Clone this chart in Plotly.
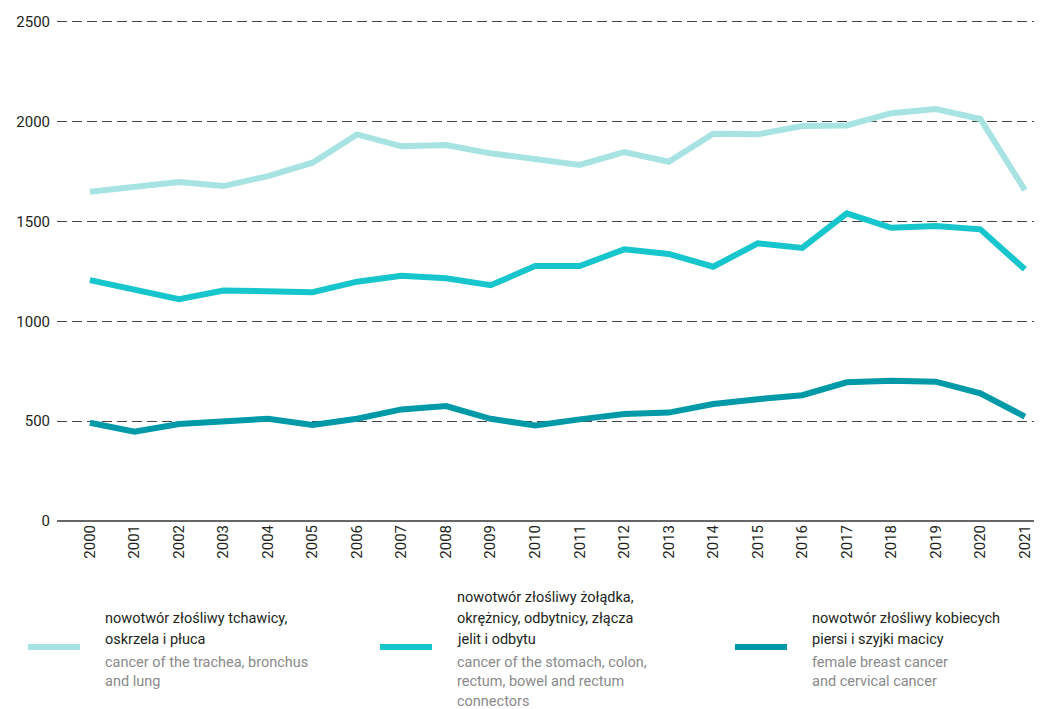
import plotly.graph_objects as go

years = list(range(2000, 2022))
lung = [1650, 1672, 1698, 1678, 1728, 1795, 1937, 1877, 1884, 1842, 1814,
        1784, 1848, 1800, 1940, 1937, 1979, 1982, 2043, 2064, 2014, 1658]
colorectal = [1207, 1157, 1111, 1155, 1147, 1146, 1199, 1229, 1216, 1181, 1277,
              1277, 1361, 1338, 1274, 1391, 1368, 1541, 1469, 1478, 1461, 1261]
breast_cervical = [492, 447, 486, 502, 512, 481, 512, 559, 576, 512, 479,
                   509, 536, 543, 586, 610, 630, 695, 703, 698, 640, 523]

names_pl = [["nowotwór złośliwy tchawicy,", "oskrzela i płuca"],
            ["nowotwór złośliwy żołądka,", "okrężnicy, odbytnicy, złącza", "jelit i odbytu"],
            ["nowotwór złośliwy kobiecych", "piersi i szyjki macicy"]]
names_en = [["cancer of the trachea, bronchus", "and lung"],
            ["cancer of the stomach, colon,", "rectum, bowel and rectum", "connectors"],
            ["female breast cancer", "and cervical cancer"]]
colors = ["#a8e3e3", "#17c5cc", "#0099a8"]
series = [lung, colorectal, breast_cervical]

FONT = "Roboto, sans-serif"

fig = go.Figure()
for vals, col in zip(series, colors):
    fig.add_trace(go.Scatter(x=years, y=vals, mode="lines",
                             line=dict(color=col, width=6),
                             showlegend=False, hoverinfo="x+y"))

OFF = 8  # page body margin
W, H = 1042 - OFF, 709 - OFF
ml, mr, mt, mb = 57 - OFF, 2, 19 - OFF, 709 - 521
pw = W - ml - mr
ph = H - mt - mb

def px2x(px):
    return (px - OFF - ml) / pw

def py2y(py):
    return (H - mb - (py - OFF)) / ph

shapes = []
annotations = []
legend_x = [(28, 80, 103), (380, 432, 455), (735, 787, 810)]
for (x0, x1, tx), col, pl, en in zip(legend_x, colors, names_pl, names_en):
    shapes.append(dict(type="line", xref="paper", yref="paper",
                       x0=px2x(x0), x1=px2x(x1), y0=py2y(647), y1=py2y(647),
                       line=dict(color=col, width=6)))
    n = len(pl)
    for i, line in enumerate(pl):
        yc = 639 - 21 * (n - 1 - i)
        annotations.append(dict(xref="paper", yref="paper", x=px2x(tx), y=py2y(yc),
                                xanchor="left", yanchor="middle", align="left",
                                text=line, showarrow=False,
                                font=dict(family=FONT, size=14.5, color="#231f20")))
    for i, line in enumerate(en):
        yc = 662 + 19.5 * i
        annotations.append(dict(xref="paper", yref="paper", x=px2x(tx), y=py2y(yc),
                                xanchor="left", yanchor="middle", align="left",
                                text=line, showarrow=False,
                                font=dict(family=FONT, size=14.5, color="#8a8a8a")))

fig.update_layout(
    width=W, height=H,
    margin=dict(l=ml, r=mr, t=mt, b=mb, pad=0),
    plot_bgcolor="white", paper_bgcolor="white",
    font=dict(family=FONT, size=15, color="#231f20"),
    shapes=shapes, annotations=annotations,
    xaxis=dict(range=[1999.26, 2021.34], tickmode="array", tickvals=years,
               ticktext=[str(y) for y in years], tickangle=-90,
               showgrid=False, zeroline=False, showline=False,
               ticks="", ticklen=6, tickcolor="white",
               tickfont=dict(family=FONT, size=15, color="#231f20")),
    yaxis=dict(range=[0, 2515], tickvals=[0, 500, 1000, 1500, 2000, 2500],
               showgrid=True, gridcolor="#444444", gridwidth=1,
               griddash="10px,5px",
               zeroline=True, zerolinecolor="#666666", zerolinewidth=1.5,
               showline=False, ticks="", ticklabelstandoff=6,
               tickfont=dict(family=FONT, size=15, color="#231f20")),
)

fig.write_html("out.html")
